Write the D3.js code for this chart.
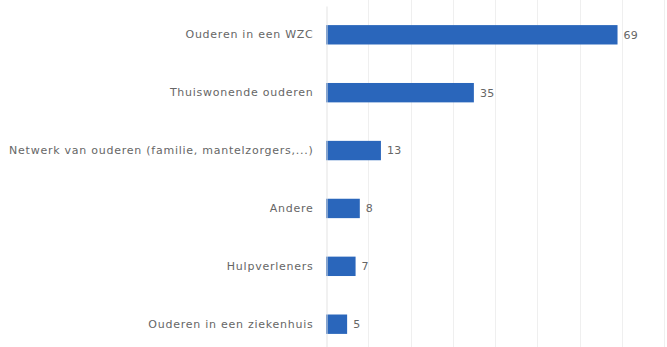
<!DOCTYPE html>
<html>
<head>
<meta charset="utf-8">
<script src="https://cdn.jsdelivr.net/npm/d3@7"></script>
<style>
  html, body { margin: 0; padding: 0; background: #fff; }
  svg { display: block; }
  text { font-family: "DejaVu Sans", Verdana, sans-serif; }
</style>
</head>
<body>
<svg id="chart" width="667" height="347"></svg>
<script>
const categories = [
  "Ouderen in een WZC",
  "Thuiswonende ouderen",
  "Netwerk van ouderen (familie, mantelzorgers,...)",
  "Andere",
  "Hulpverleners",
  "Ouderen in een ziekenhuis"
];
const values = [69, 35, 13, 8, 7, 5];
const xTicks = [10, 20, 30, 40, 50, 60, 70, 80];

const svg = d3.select("#chart");
const plot = { left: 326, right: 664, top: 6, bottom: 353 };

const x = d3.scaleLinear().domain([0, 80]).range([plot.left, plot.right]);
const y = d3.scaleBand().domain(categories).range([plot.top, plot.bottom]).paddingInner(0.665).paddingOuter(0.33);

// vertical gridlines
svg.append("g")
  .selectAll("line")
  .data(xTicks)
  .join("line")
  .attr("x1", d => Math.round(x(d)) + 0.5)
  .attr("x2", d => Math.round(x(d)) + 0.5)
  .attr("y1", 0)
  .attr("y2", 347)
  .attr("stroke", "#efefef")
  .attr("stroke-width", 1);

// bars
svg.append("g")
  .selectAll("rect")
  .data(values)
  .join("rect")
  .attr("x", x(0))
  .attr("y", (d, i) => y(categories[i]))
  .attr("width", d => x(d) - x(0))
  .attr("height", y.bandwidth())
  .attr("fill", "#2a66bb");

// category axis
const yAxis = d3.axisLeft(y).tickSize(0).tickPadding(13);
const gy = svg.append("g").attr("transform", `translate(${plot.left + 0.5},0)`).call(yAxis);
gy.select(".domain").attr("stroke", "#e3e3e3");
gy.selectAll("text")
  .attr("fill", "#666666")
  .attr("font-size", "11px")
  .attr("letter-spacing", "0.75px")
  .attr("font-family", "\"DejaVu Sans\", Verdana, sans-serif");

// value labels
svg.append("g")
  .selectAll("text")
  .data(values)
  .join("text")
  .attr("x", d => x(d) + 6)
  .attr("y", (d, i) => y(categories[i]) + y.bandwidth() / 2)
  .attr("dy", "0.35em")
  .attr("fill", "#666666")
  .attr("font-size", "11px")
  .attr("letter-spacing", "0.3px")
  .text(d => d);
</script>
</body>
</html>
